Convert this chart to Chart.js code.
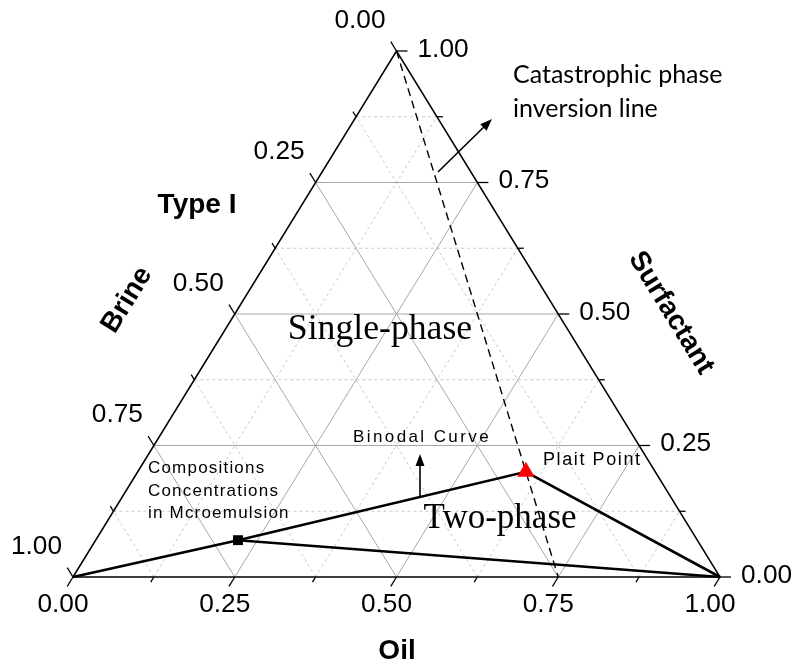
<!DOCTYPE html>
<html>
<head>
<meta charset="utf-8">
<script src="https://cdn.jsdelivr.net/npm/chart.js@4.4.1/dist/chart.umd.min.js"></script>
<style>
  html, body { margin: 0; padding: 0; background: #fff; }
  #wrap { width: 799px; height: 666px; position: relative; }
</style>
</head>
<body>
<div id="wrap"><canvas id="ternary"></canvas></div>
<script>
// Axis components and tick marks of the ternary diagram
const axisTitles = ['Oil', 'Surfactant', 'Brine'];
const tickValues = [0, 0.25, 0.5, 0.75, 1];
const tickLabels = ['0.00', '0.25', '0.50', '0.75', '1.00'];
const minorTickValues = [0.125, 0.375, 0.625, 0.875];

// Binodal curve (upper branch): brine corner -> microemulsion -> plait point -> oil corner
const binodalOil = [0.00, 0.22, 0.60, 1.00];
const binodalSurfactant = [0.00, 0.07, 0.20, 0.00];

// Lower branch: microemulsion composition -> oil corner
const lowerOil = [0.22, 1.00];
const lowerSurfactant = [0.07, 0.00];

// Microemulsion composition point
const microOil = [0.22];
const microSurfactant = [0.07];

// Plait point
const plaitOil = [0.60];
const plaitSurfactant = [0.20];

// Catastrophic phase inversion line
const inversionOil = [0.00, 0.75];
const inversionSurfactant = [1.00, 0.00];

// ternary (oil, surfactant) -> plane coordinates
const toXY = (oil, surf) => ({ x: oil + surf / 2, y: surf });
const pts = (oils, surfs) => oils.map((o, i) => toXY(o, surfs[i]));

// grid lines: constant surfactant, constant oil and constant brine
function gridLine(v, kind) {
  if (kind === 'S') return [toXY(0, v), toXY(1 - v, v)];
  if (kind === 'O') return [toXY(v, 0), toXY(v, 1 - v)];
  return [toXY(1 - v, 0), toXY(0, 1 - v)];
}
const gridSets = [];
for (const kind of ['S', 'O', 'B']) {
  for (const v of minorTickValues) {
    gridSets.push({ data: gridLine(v, kind), showLine: true, pointRadius: 0,
      borderColor: '#c9c9c9', borderWidth: 1, borderDash: [3, 3], order: 20, clip: false });
  }
  for (const v of tickValues.slice(1, -1)) {
    gridSets.push({ data: gridLine(v, kind), showLine: true, pointRadius: 0,
      borderColor: '#a8a8a8', borderWidth: 1, order: 19, clip: false });
  }
}

const datasets = [
  ...gridSets,
  { data: [toXY(0, 0), toXY(1, 0), toXY(0, 1), toXY(0, 0)], showLine: true, pointRadius: 0,
    borderColor: '#000', borderWidth: 1.5, order: 10, clip: false },
  { data: pts(inversionOil, inversionSurfactant), showLine: true, pointRadius: 0,
    borderColor: '#000', borderWidth: 1.4, borderDash: [8, 5], order: 5, clip: false },
  { data: pts(binodalOil, binodalSurfactant), showLine: true, pointRadius: 0,
    borderColor: '#000', borderWidth: 2.6, order: 3, clip: false },
  { data: pts(lowerOil, lowerSurfactant), showLine: true, pointRadius: 0,
    borderColor: '#000', borderWidth: 2.6, order: 3, clip: false },
  { data: pts(microOil, microSurfactant), pointStyle: 'rect', pointRadius: 7,
    backgroundColor: '#000', borderColor: '#000', borderWidth: 0, order: 1, clip: false },
  { data: pts(plaitOil, plaitSurfactant), pointStyle: 'triangle', pointRadius: 10,
    backgroundColor: '#ff0000', borderColor: '#ff0000', borderWidth: 0, order: 0, clip: false }
];

function drawText(ctx, str, px, py, font, o = {}) {
  ctx.save();
  ctx.font = font;
  ctx.fillStyle = o.color || '#000';
  ctx.textAlign = o.align || 'left';
  ctx.textBaseline = o.baseline || 'alphabetic';
  if ('letterSpacing' in ctx) ctx.letterSpacing = o.spacing || '0px';
  ctx.translate(px, py);
  if (o.rotate) ctx.rotate(o.rotate);
  if (o.sx) ctx.scale(o.sx, 1);
  ctx.fillText(str, 0, 0);
  ctx.restore();
}

function drawArrow(ctx, x0, y0, x1, y1) {
  const a = Math.atan2(y1 - y0, x1 - x0);
  const len = 12, half = 4.5;
  ctx.save();
  ctx.strokeStyle = '#000';
  ctx.fillStyle = '#000';
  ctx.lineWidth = 1.6;
  ctx.beginPath();
  ctx.moveTo(x0, y0);
  ctx.lineTo(x1 - Math.cos(a) * len * 0.8, y1 - Math.sin(a) * len * 0.8);
  ctx.stroke();
  ctx.beginPath();
  ctx.moveTo(x1, y1);
  ctx.lineTo(x1 - Math.cos(a) * len - Math.sin(a) * half, y1 - Math.sin(a) * len + Math.cos(a) * half);
  ctx.lineTo(x1 - Math.cos(a) * len + Math.sin(a) * half, y1 - Math.sin(a) * len - Math.cos(a) * half);
  ctx.closePath();
  ctx.fill();
  ctx.restore();
}

const ternaryDecor = {
  id: 'ternaryDecor',
  afterDatasetsDraw(chart) {
    const { ctx } = chart;
    const sx = chart.scales.x, sy = chart.scales.y;
    const P = (o, s) => [sx.getPixelForValue(o + s / 2), sy.getPixelForValue(s)];
    const Q = (x, y) => [sx.getPixelForValue(x), sy.getPixelForValue(y)];
    const unit = (a, b) => { const dx = b[0] - a[0], dy = b[1] - a[1], l = Math.hypot(dx, dy); return [dx / l, dy / l]; };

    // tick marks on the three edges
    ctx.save();
    ctx.strokeStyle = '#000';
    ctx.lineWidth = 1.3;
    const allTicks = [...tickValues.map(v => [v, 11]), ...minorTickValues.map(v => [v, 6])];
    for (const [v, len] of allTicks) {
      // oil (bottom edge), pointing along constant-oil lines
      let p = P(v, 0), d = unit(p, P(v, -0.1));
      ctx.beginPath(); ctx.moveTo(p[0], p[1]); ctx.lineTo(p[0] + d[0] * len, p[1] + d[1] * len); ctx.stroke();
      // surfactant (right edge), horizontal
      p = P(1 - v, v); d = unit(p, P(1.1 - v, v));
      ctx.beginPath(); ctx.moveTo(p[0], p[1]); ctx.lineTo(p[0] + d[0] * len, p[1] + d[1] * len); ctx.stroke();
      // brine (left edge), pointing along constant-brine lines
      p = P(0, 1 - v); d = unit(p, P(-0.1, 1.1 - v));
      ctx.beginPath(); ctx.moveTo(p[0], p[1]); ctx.lineTo(p[0] + d[0] * len, p[1] + d[1] * len); ctx.stroke();
    }
    ctx.restore();

    // tick labels
    const tickFont = '25px "Liberation Sans", Arial, sans-serif';
    tickValues.forEach((v, i) => {
      let p = P(v, 0);
      drawText(ctx, tickLabels[i], p[0] - 10, p[1] + 28, tickFont, { align: 'center', baseline: 'middle', sx: 1.05 });
      p = P(1 - v, v);
      drawText(ctx, tickLabels[i], p[0] + 21, p[1] - 1, tickFont, { align: 'left', baseline: 'middle', sx: 1.05 });
      p = P(0, 1 - v);
      drawText(ctx, tickLabels[i], p[0] - 11, p[1] - 30, tickFont, { align: 'right', baseline: 'middle', sx: 1.05 });
    });

    // axis titles
    const titleFont = 'bold 28px "Liberation Sans", Arial, sans-serif';
    const edgeAngle = Math.atan2(P(0, 0)[1] - P(0, 1)[1], P(0, 1)[0] - P(0, 0)[0]);
    let q = Q(0.5008, -0.1559);
    drawText(ctx, axisTitles[0], q[0], q[1], titleFont, { align: 'center' });
    q = Q(0.9243, 0.5019);
    drawText(ctx, axisTitles[1], q[0], q[1], titleFont, { align: 'center', baseline: 'middle', rotate: edgeAngle });
    q = Q(0.0835, 0.5266);
    drawText(ctx, axisTitles[2], q[0], q[1], titleFont, { align: 'center', baseline: 'middle', rotate: -edgeAngle });
    q = Q(0.1917, 0.692);
    drawText(ctx, 'Type I', q[0], q[1], titleFont, { align: 'center' });

    // region labels
    const serif = '35px "Liberation Serif", "Times New Roman", serif';
    q = Q(0.4745, 0.4525);
    drawText(ctx, 'Single-phase', q[0], q[1], serif, { align: 'center', sx: 1.02 });
    q = Q(0.66, 0.0932);
    drawText(ctx, 'Two-phase', q[0], q[1], serif, { align: 'center' });

    // annotations
    q = Q(0.4328, 0.2567);
    drawText(ctx, 'Binodal Curve', q[0], q[1], '17px "Liberation Sans", Arial, sans-serif', { spacing: '2.4px' });
    q = Q(0.7264, 0.2129);
    drawText(ctx, 'Plait Point', q[0], q[1], '18px "Liberation Sans", Arial, sans-serif', { spacing: '1.6px' });
    const compLines = ['Compositions', 'Concentrations', 'in Mcroemulsion'];
    const compY = [0.1977, 0.154, 0.1122];
    compLines.forEach((t, i) => {
      const r = Q(0.1159, compY[i]);
      drawText(ctx, t, r[0], r[1], '17px "Liberation Sans", Arial, sans-serif', { spacing: '1.2px' });
    });
    const cal = '25px Lato, "Open Sans", sans-serif';
    q = Q(0.680, 0.9386);
    drawText(ctx, 'Catastrophic phase', q[0], q[1], cal);
    q = Q(0.680, 0.8751);
    drawText(ctx, 'inversion line', q[0], q[1], cal);

    // arrows
    let a = Q(0.5363, 0.152), b = Q(0.5363, 0.2338);
    drawArrow(ctx, a[0], a[1], b[0], b[1]);
    a = Q(0.5641, 0.77); b = Q(0.6476, 0.8707);
    drawArrow(ctx, a[0], a[1], b[0], b[1]);
  }
};

new Chart(document.getElementById('ternary'), {
  type: 'scatter',
  data: { datasets },
  options: {
    responsive: true,
    maintainAspectRatio: false,
    animation: false,
    devicePixelRatio: 1,
    layout: { padding: { left: 73, right: 79, top: 51, bottom: 89 } },
    scales: {
      x: { type: 'linear', min: 0, max: 1, display: false },
      y: { type: 'linear', min: 0, max: 1, display: false }
    },
    plugins: { legend: { display: false }, tooltip: { enabled: false } },
    elements: { line: { tension: 0 } }
  },
  plugins: [ternaryDecor]
});
</script>
</body>
</html>
